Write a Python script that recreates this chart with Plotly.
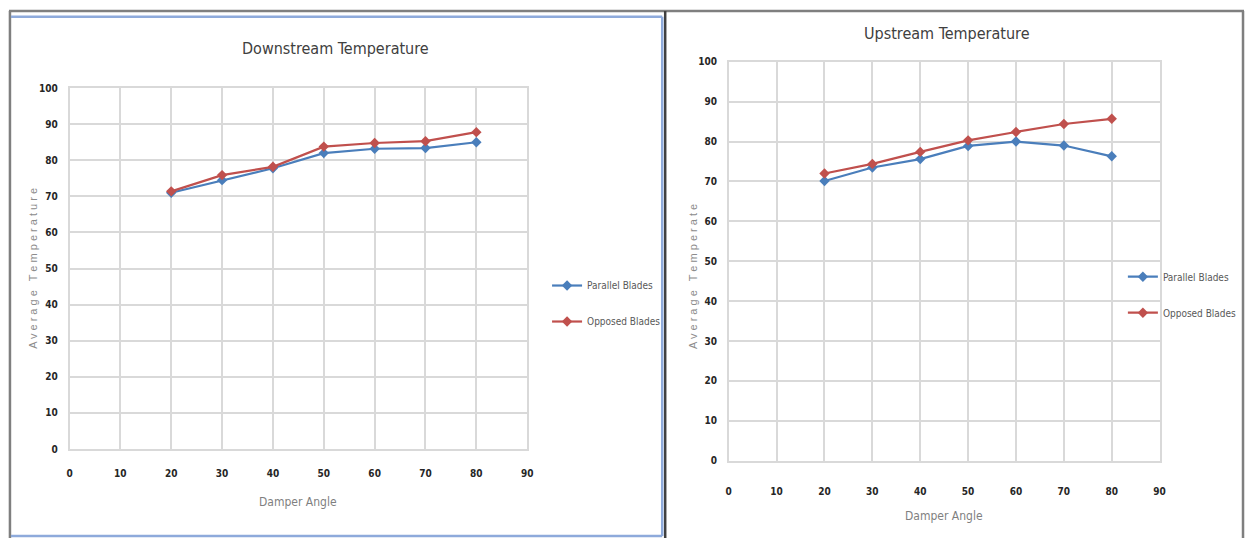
import plotly.graph_objects as go

# Damper angle settings (degrees)
angles = [20, 30, 40, 50, 60, 70, 80]

# Downstream average temperature
down_parallel = [71.0, 74.5, 77.8, 82.0, 83.2, 83.4, 85.0]
down_opposed = [71.4, 75.9, 78.2, 83.8, 84.8, 85.3, 87.8]

# Upstream average temperature
up_parallel = [70.1, 73.5, 75.6, 78.9, 80.0, 79.0, 76.3]
up_opposed = [72.0, 74.4, 77.4, 80.3, 82.4, 84.4, 85.7]

x_ticks = [0, 10, 20, 30, 40, 50, 60, 70, 80, 90]
y_ticks = [0, 10, 20, 30, 40, 50, 60, 70, 80, 90, 100]

W, H = 1251, 544
BLUE = "#4a7ebb"
RED = "#c0504d"
GRID = "#d9d9d9"
NARROW = "DejaVu Sans Condensed, Liberation Sans Narrow, Arial Narrow, Arial"
TICK_FONT = dict(family=NARROW, size=10, color="#262626", weight="bold")
LEG_FONT = dict(family=NARROW, size=10, color="#595959")


def px_x(v):
    return v / W


def px_y(v):
    return 1 - v / H


fig = go.Figure()

series = [
    ("x", "y", "legend", "d", down_parallel, down_opposed),
    ("x2", "y2", "legend2", "u", up_parallel, up_opposed),
]
for xa, ya, leg, grp, par, opp in series:
    fig.add_trace(go.Scatter(
        x=angles, y=par, name="Parallel Blades", xaxis=xa, yaxis=ya, legend=leg,
        legendgroup=grp + "p",
        mode="lines+markers", line=dict(color=BLUE, width=2.2),
        marker=dict(symbol="diamond", size=8, color=BLUE)))
    fig.add_trace(go.Scatter(
        x=angles, y=opp, name="Opposed Blades", xaxis=xa, yaxis=ya, legend=leg,
        legendgroup=grp + "o",
        mode="lines+markers", line=dict(color=RED, width=2.2),
        marker=dict(symbol="diamond", size=8, color=RED)))

axis_common = dict(showgrid=True, gridcolor=GRID, gridwidth=1.5, showline=True,
                   linecolor=GRID, linewidth=1.5, mirror=True, zeroline=False,
                   tickfont=TICK_FONT, ticks="", fixedrange=True)

legend_common = dict(xanchor="left", yanchor="top", font=LEG_FONT,
                     bgcolor="rgba(0,0,0,0)", tracegroupgap=17,
                     itemwidth=30, traceorder="grouped")

fig.update_layout(
    width=W, height=H, margin=dict(l=0, r=0, t=0, b=0),
    paper_bgcolor="white", plot_bgcolor="white",
    xaxis=dict(domain=[px_x(67), px_x(528)], range=[0, 90], tickvals=x_ticks,
               anchor="y", ticklabelstandoff=14, **axis_common),
    yaxis=dict(domain=[px_y(453), px_y(84)], range=[0, 100], tickvals=y_ticks,
               anchor="x", ticklabelstandoff=8, **axis_common),
    xaxis2=dict(domain=[px_x(731), px_x(1165)], range=[0, 90], tickvals=x_ticks,
                anchor="y2", ticklabelstandoff=21, **axis_common),
    yaxis2=dict(domain=[px_y(465), px_y(57)], range=[0, 100], tickvals=y_ticks,
                anchor="x2", ticklabelstandoff=8, **axis_common),
    legend=dict(x=px_x(548), y=px_y(271), **legend_common),
    legend2=dict(x=px_x(1128), y=px_y(262), **legend_common),
)

title_font = dict(family=NARROW, size=16, color="#404040")
label_font = dict(family=NARROW, size=12, color="#7f7f7f")
ytitle_font = dict(family="Liberation Sans, Arial", size=11, color="#8c8c8c")

annotations = [
    dict(text="Downstream Temperature", x=px_x(335), y=px_y(43), font=title_font),
    dict(text="Upstream Temperature", x=px_x(951), y=px_y(28), font=title_font),
    dict(text="Damper Angle", x=px_x(297), y=px_y(507), font=label_font),
    dict(text="Damper Angle", x=px_x(948), y=px_y(522), font=label_font),
    dict(text=" ".join("Average Temperature"),
         x=px_x(30), y=px_y(268), font=ytitle_font, textangle=-90),
    dict(text=" ".join("Average Temperate"),
         x=px_x(695), y=px_y(277), font=ytitle_font, textangle=-90),
]
for a in annotations:
    a.update(xref="paper", yref="paper", showarrow=False, xanchor="center", yanchor="middle")
fig.update_layout(annotations=annotations)

# Panel frames
shapes = [
    # outer grey frame
    dict(type="line", x0=px_x(6), x1=px_x(1250), y0=px_y(5), y1=px_y(5),
         line=dict(color="#7f7f7f", width=2.5)),
    dict(type="line", x0=px_x(7), x1=px_x(7), y0=px_y(5), y1=px_y(544),
         line=dict(color="#7f7f7f", width=2.5)),
    dict(type="line", x0=px_x(1249), x1=px_x(1249), y0=px_y(5), y1=px_y(544),
         line=dict(color="#7f7f7f", width=2.5)),
    dict(type="line", x0=px_x(667), x1=px_x(667), y0=px_y(5), y1=px_y(544),
         line=dict(color="#404040", width=2.5)),
    # blue frame round the left panel
    dict(type="line", x0=px_x(8), x1=px_x(664), y0=px_y(11), y1=px_y(11),
         line=dict(color="#8eaadb", width=2.5)),
    dict(type="line", x0=px_x(664), x1=px_x(664), y0=px_y(11), y1=px_y(542),
         line=dict(color="#8eaadb", width=2.5)),
    dict(type="line", x0=px_x(8), x1=px_x(664), y0=px_y(542), y1=px_y(542),
         line=dict(color="#8eaadb", width=2.5)),
]
for s in shapes:
    s.update(xref="paper", yref="paper", layer="above")
fig.update_layout(shapes=shapes)

fig.write_html("out.html")
